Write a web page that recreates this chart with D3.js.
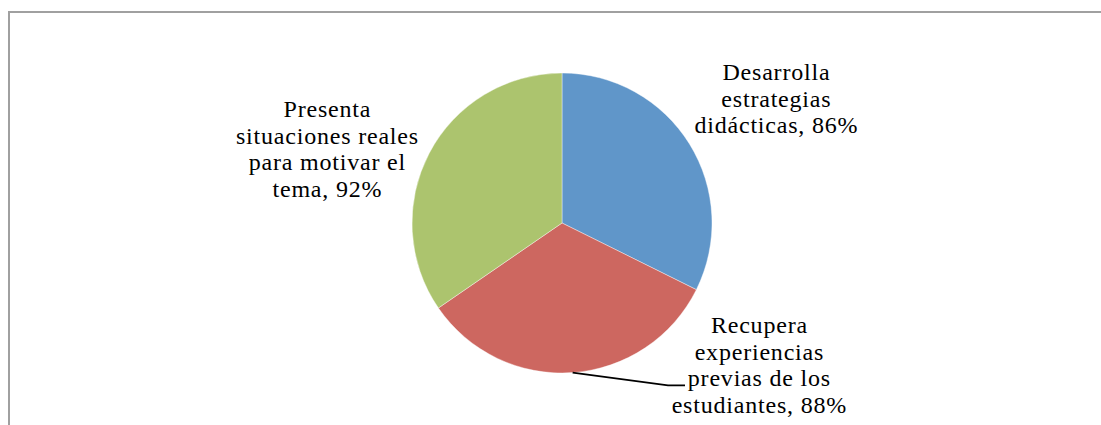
<!DOCTYPE html>
<html>
<head>
<meta charset="utf-8">
<script src="https://cdn.jsdelivr.net/npm/d3@7"></script>
<style>
  html, body { margin: 0; padding: 0; background: #fff; }
  svg { display: block; }
</style>
</head>
<body>
<svg id="chart" width="1101" height="425"></svg>
<script>
// ---- Data ----
const categories = [
  "Desarrolla estrategias didácticas",
  "Recupera experiencias previas de los estudiantes",
  "Presenta situaciones reales para motivar el tema"
];
const values = [86, 88, 92];
const labelLines = [
  ["Desarrolla", "estrategias", "didácticas, 86%"],
  ["Recupera", "experiencias", "previas de los", "estudiantes, 88%"],
  ["Presenta", "situaciones reales", "para motivar el", "tema, 92%"]
];
const colors = ["#6096C9", "#CD6760", "#ACC46E"];

// ---- Layout ----
const W = 1101, H = 425;
const cx = 562, cy = 223, R = 150;
const lineH = 26.7;
// label anchor: center x, first baseline y
const labelPos = [
  { x: 776, y: 80 },
  { x: 759, y: 333 },
  { x: 327, y: 117 }
];

const svg = d3.select("#chart");

// frame (top and left border visible)
svg.append("path")
  .attr("d", `M9,${H} L9,12 L${W},12`)
  .attr("fill", "none")
  .attr("stroke", "#a0a0a0")
  .attr("stroke-width", 2);

const pie = d3.pie().sort(null).value(d => d)(values);
const arc = d3.arc().innerRadius(0).outerRadius(R);

const g = svg.append("g").attr("transform", `translate(${cx},${cy})`);
g.selectAll("path.slice")
  .data(pie)
  .join("path")
  .attr("class", "slice")
  .attr("d", arc)
  .attr("fill", (d, i) => colors[i])
  .attr("stroke", "#ffffff")
  .attr("stroke-width", 0.4);

// leader line for slice 1
{
  const d = pie[1];
  const a = (d.startAngle + d.endAngle) / 2;
  const sx = cx + R * Math.sin(a), sy = cy - R * Math.cos(a);
  const lp = labelPos[1];
  const ey = lp.y + 2 * lineH - 1;
  svg.append("polyline")
    .attr("points", `${sx},${sy} ${lp.x - 91},${ey} ${lp.x - 74},${ey}`)
    .attr("fill", "none")
    .attr("stroke", "#000")
    .attr("stroke-width", 1.6);
}

// labels
labelLines.forEach((lines, i) => {
  const t = svg.append("text")
    .attr("text-anchor", "middle")
    .attr("font-family", "'Liberation Serif', 'DejaVu Serif', serif")
    .attr("font-size", 24)
    .attr("letter-spacing", "0.8px")
    .attr("fill", "#000");
  lines.forEach((ln, j) => {
    t.append("tspan")
      .attr("x", labelPos[i].x + 0.4)
      .attr("y", labelPos[i].y + j * lineH)
      .text(ln);
  });
});
</script>
</body>
</html>
